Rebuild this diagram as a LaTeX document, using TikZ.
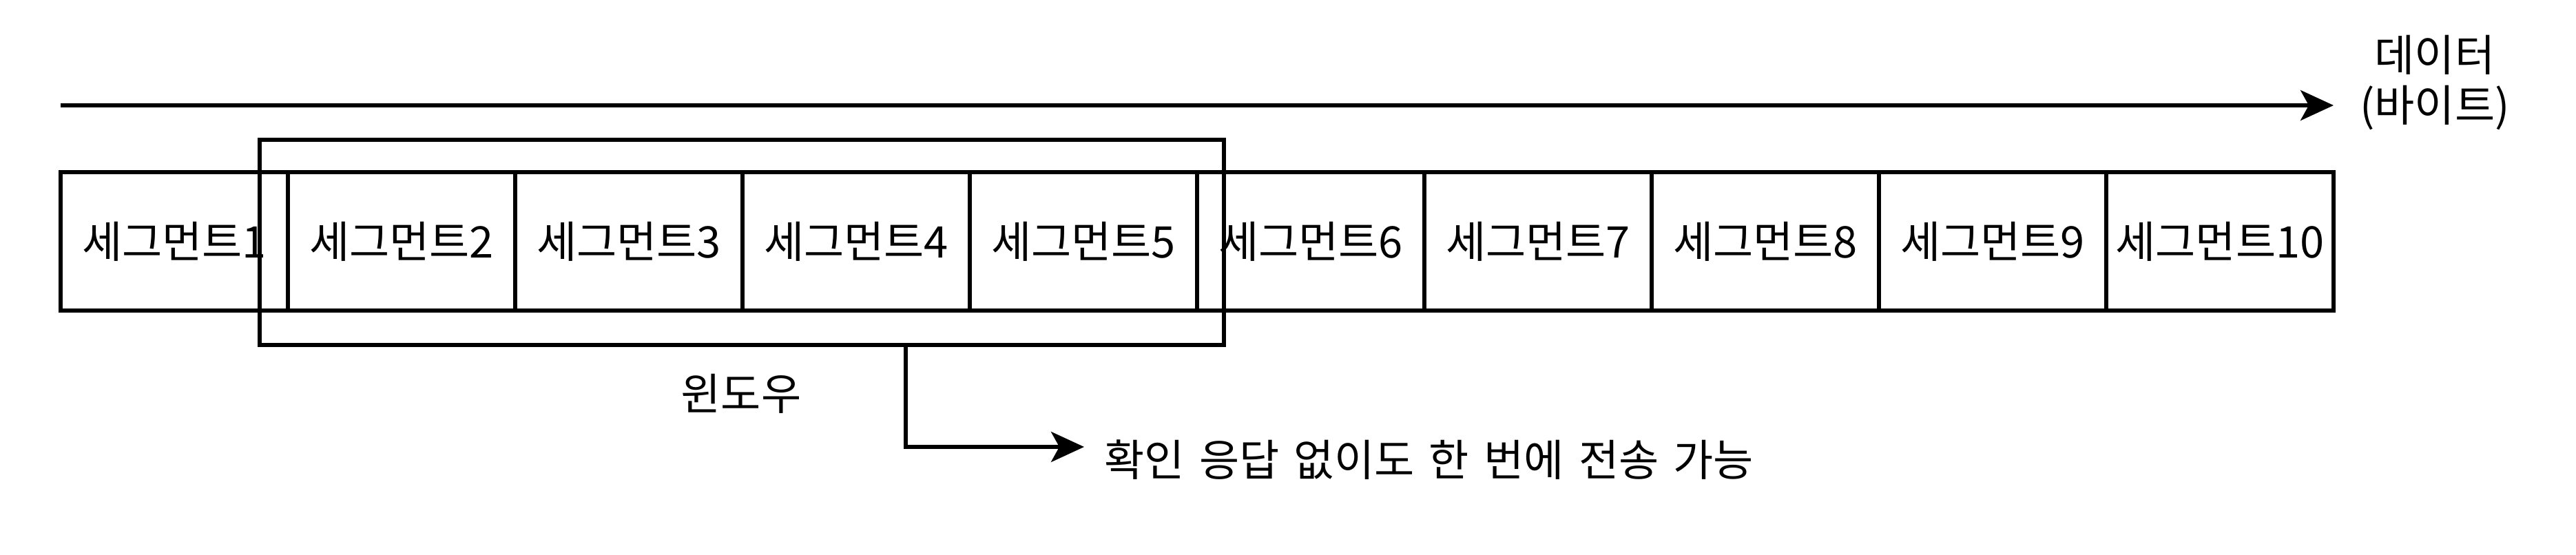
\documentclass[tikz,border=0pt]{standalone}
\usepackage{fontspec}
\setmainfont{Noto Sans CJK KR}
\newfontfamily\notefont[WordSpace=1.5]{Noto Sans CJK KR}
\usepackage{tikz}
\usetikzlibrary{arrows.meta,positioning,calc}
\definecolor{inkblack}{RGB}{0,0,0}
\tikzset{
  seg/.style   ={rectangle, draw=inkblack, line width=1.5pt, minimum width=3.3cm,
                 minimum height=2.01cm, inner sep=0pt, outer sep=0pt},
  winbox/.style={rectangle, draw=inkblack, line width=1.5pt, minimum width=14cm,
                 minimum height=2.98cm, inner sep=0pt, outer sep=0pt},
  flow/.style  ={-{Stealth[length=0.48cm, width=0.44cm, inset=0.12cm]}, line width=1.5pt, draw=inkblack},
  lbl/.style   ={align=center, inner sep=0pt}
}
\begin{document}
\begin{tikzpicture}[font=\fontsize{18}{21}\selectfont, node distance=0cm]
\useasboundingbox (0,0) rectangle (37.4,-8.05);
% segments
\node[seg] (s1) at (2.53,-3.505) {세그먼트1};
\node[seg, right=of s1] (s2) {세그먼트2};
\node[seg, right=of s2] (s3) {세그먼트3};
\node[seg, right=of s3] (s4) {세그먼트4};
\node[seg, right=of s4] (s5) {세그먼트5};
\node[seg, right=of s5] (s6) {세그먼트6};
\node[seg, right=of s6] (s7) {세그먼트7};
\node[seg, right=of s7] (s8) {세그먼트8};
\node[seg, right=of s8] (s9) {세그먼트9};
\node[seg, right=of s9] (s10) {세그먼트10};

% window
\node[winbox] (win) at (10.77,-3.52) {};
\node[lbl] (winlbl) at (10.76,-5.72) {윈도우};

% data axis
\coordinate (flowstart) at ($(s1.north west)+(0,0.97)$);
\coordinate (flowend) at ($(s10.north east)+(0,0.97)$);
\draw[flow] (flowstart) -- (flowend);
\node[lbl] (datalbl) at (35.35,-1.2) {데이터\\(바이트)};

% note
\node[lbl, anchor=west, inner xsep=0.29cm, font=\notefont\fontsize{18}{21}\selectfont] (note) at (15.74,-6.68)
  {확인 응답 없이도 한 번에 전송 가능};
\coordinate (winfoot) at ($(win.south west)!0.67!(win.south east)$);
\draw[flow] (winfoot) |- ([yshift=0.19cm]note.west);
\end{tikzpicture}
\end{document}
